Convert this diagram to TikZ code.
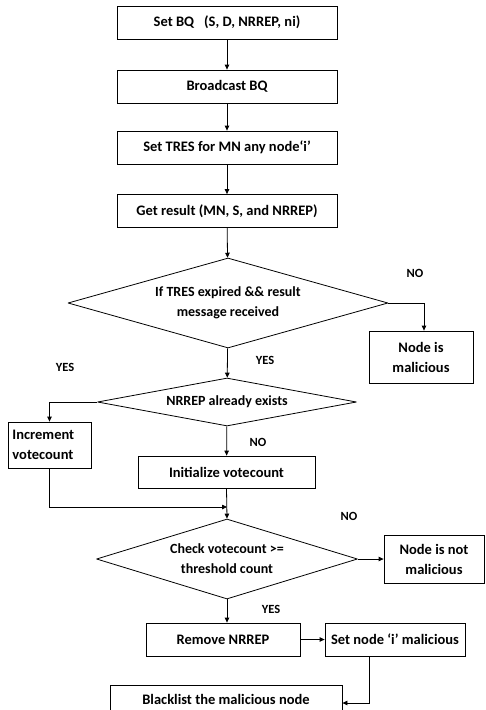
\documentclass[tikz,border=0pt]{standalone}
\usepackage{fontspec}
\setmainfont{Carlito}
\usetikzlibrary{shapes.geometric, arrows.meta, positioning, calc}

\tikzset{
    box/.style={draw, thick, rectangle, inner sep=1pt, font=\fontsize{14.5}{20}\selectfont\bfseries, align=center},
    dec/.style={draw, thick, diamond, line join=round, inner sep=0pt, font=\fontsize{14}{20}\selectfont\bfseries, align=center},
    lbl/.style={font=\fontsize{12.5}{14}\selectfont\bfseries},
    arr/.style={-{Triangle[length=5pt,width=4.5pt]}, thick},
}

\begin{document}
\begin{tikzpicture}[x=1pt, y=-1pt]
        \useasboundingbox (0, 0) rectangle (485, 710);

        \node[box, minimum width=220, minimum height=33] (bq) at (227, 22.5) {Set BQ\hspace{10pt}(S, D, NRREP, ni)}; % set
        \node[box, minimum width=220, minimum height=33] (bc) at (227, 86.5) {Broadcast BQ}; % broadcast
        \node[box, minimum width=220, minimum height=33] (tr) at (227, 147.5) {Set TRES for MN any node`i’}; % tres
        \node[box, minimum width=220, minimum height=33] (gr) at (227, 211) {Get result (MN, S, and NRREP)}; % result
        \node[dec, aspect=3.55, minimum width=320, minimum height=90] (exp) at (228, 303) {If TRES expired \&\& result\\message received}; % check 1
        \node[box, minimum width=104, minimum height=52] (mal) at (421, 357) {Node is\\malicious}; % no 1
        \node[dec, aspect=5.4, minimum width=259, minimum height=48] (ex) at (227, 402) {NRREP already exists}; % check 2
        \node[box, minimum width=83, minimum height=46, align=left, text width=74] (inc) at (49.5, 445) {Increment\\votecount}; % yes 2
        \node[box, minimum width=177, minimum height=32] (ini) at (226.5, 472) {Initialize votecount}; % no 2
        \coordinate (j) at (227, 507); % join
        \node[dec, aspect=3.26, minimum width=261, minimum height=80] (thr) at (227, 559) {Check votecount >=\\threshold count}; % check 3
        \node[box, minimum width=100, minimum height=48] (nm) at (434, 559) {Node is not\\malicious}; % no 3
        \node[box, minimum width=154, minimum height=33] (rm) at (223, 639.5) {Remove NRREP}; % yes 3
        \node[box, minimum width=140, minimum height=33] (sm) at (395, 639.5) {Set node ‘i’ malicious}; % mark
        \node[box, minimum width=232, minimum height=28] (bl) at (226, 699) {Blacklist the malicious node}; % blacklist

        \node[lbl] (no1) at (415, 273) {NO};
        \node[lbl] (yes1) at (265, 360) {YES};
        \node[lbl] (yes2) at (65, 367) {YES};
        \node[lbl] (no2) at (258, 442) {NO};
        \node[lbl] (no3) at (349, 516) {NO};
        \node[lbl] (yes3) at (271, 609) {YES};

        \draw[arr]
            (bq) edge (bc)
            (bc) edge (tr)
            (tr) edge (gr)
            (gr) edge (exp)
            (exp) edge (ex)
            (ex) edge (ini)
            (rm) edge (sm)
            ;
        \draw[arr] (exp.east) -| ([xshift=3pt]mal.north);
        \draw[arr] (ex.west) -| (inc.north);
        \draw[arr] (inc.south) |- (j);
        \draw[arr] (ini.south) -- (thr.north);
        \draw[arr] (thr.east) -- (nm.west);
        \draw[arr] (thr.south) -- (thr.south |- rm.north);
        \draw[arr] ([xshift=-26pt]sm.south) |- ($(bl.east)+(0,4)$);
    \end{tikzpicture}
\end{document}
